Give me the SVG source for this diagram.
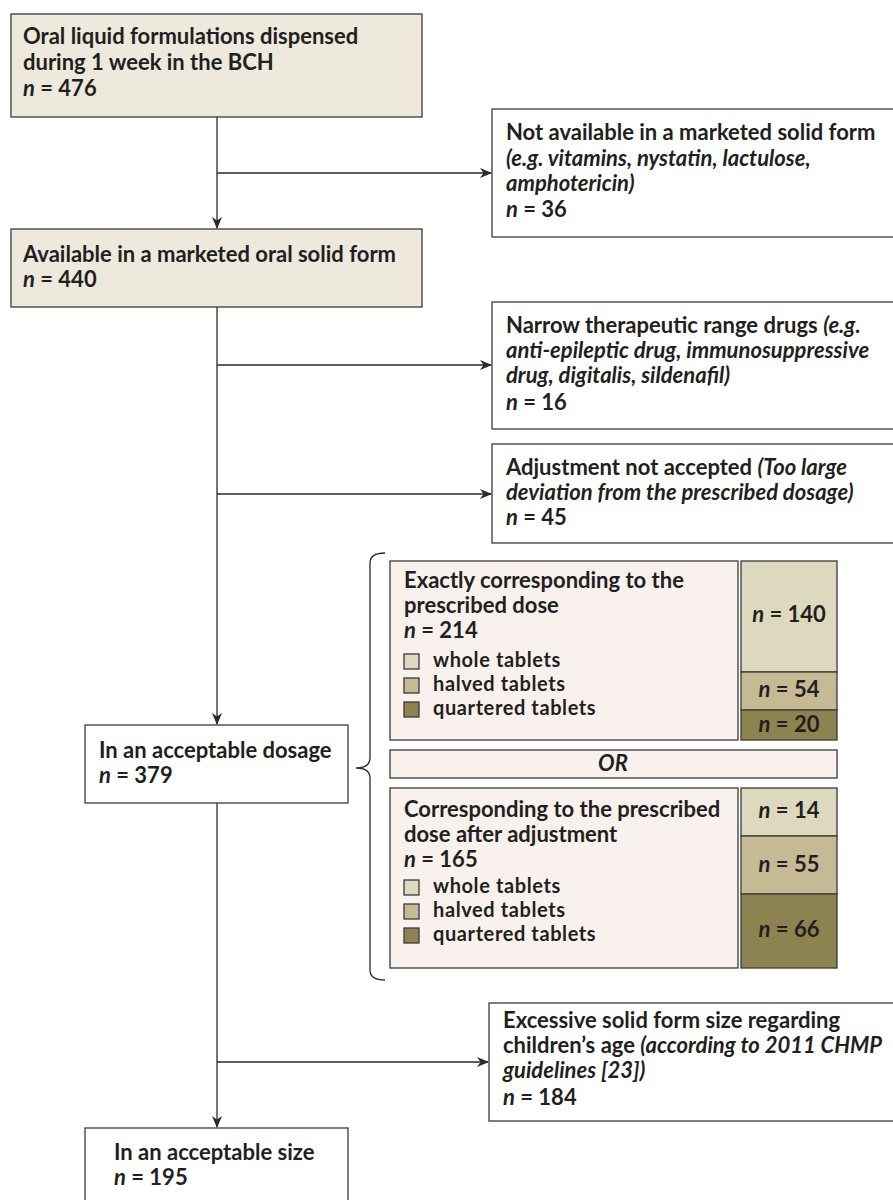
<svg xmlns="http://www.w3.org/2000/svg" width="893" height="1200" viewBox="0 0 893 1200">
<defs>
<style>
text{font-family:Lato,"Liberation Sans",sans-serif;font-weight:bold;font-size:22px;fill:#231f20}
.i{font-style:italic}
.lg{font-size:20px;letter-spacing:0.6px}
.box{stroke:#3a3a3a;stroke-width:1.3}
.beige{fill:#ede9dd}
.white{fill:#ffffff}
.pink{fill:#f9f1ee}
.c1{fill:#dcd9bf}
.c2{fill:#c5ba94}
.c3{fill:#8c8350}
.ln{stroke:#2a2a2a;stroke-width:1.3;fill:none}
.mid{text-anchor:middle}
</style>
<marker id="ah" viewBox="0 0 12 10" refX="11" refY="5" markerWidth="12" markerHeight="10" markerUnits="userSpaceOnUse" orient="auto">
<path d="M0,0 L12,5 L0,10 L3.5,5 z" fill="#2a2a2a"/>
</marker>
</defs>

<g id="connectors">
<line class="ln" x1="217" y1="117" x2="217" y2="228" marker-end="url(#ah)"/>
<line class="ln" x1="217" y1="173" x2="491" y2="173" marker-end="url(#ah)"/>
<line class="ln" x1="217" y1="307" x2="217" y2="724" marker-end="url(#ah)"/>
<line class="ln" x1="217" y1="365" x2="491" y2="365" marker-end="url(#ah)"/>
<line class="ln" x1="217" y1="494" x2="491" y2="494" marker-end="url(#ah)"/>
<line class="ln" x1="217" y1="803" x2="217" y2="1127" marker-end="url(#ah)"/>
<line class="ln" x1="217" y1="1062" x2="488" y2="1062" marker-end="url(#ah)"/>
<path class="ln" d="M385,553 Q370,553 370,563 L370,758 Q370,768 356,768 Q370,768 370,778 L370,970 Q370,980 385,980"/>
</g>

<g id="n-oral">
<rect class="box beige" x="11" y="14" width="411" height="103"/>
<text x="23" y="44">Oral liquid formulations dispensed</text>
<text x="23" y="70">during 1 week in the BCH</text>
<text x="23" y="96"><tspan class="i">n</tspan> = 476</text>
</g>

<g id="n-notavail">
<rect class="box white" x="492" y="109" width="410" height="128"/>
<text x="506" y="140">Not available in a marketed solid form</text>
<text x="506" y="166" class="i">(e.g. vitamins, nystatin, lactulose,</text>
<text x="506" y="191" class="i">amphotericin)</text>
<text x="506" y="217"><tspan class="i">n</tspan> = 36</text>
</g>

<g id="n-avail">
<rect class="box beige" x="11" y="229" width="411" height="78"/>
<text x="23" y="262">Available in a marketed oral solid form</text>
<text x="23" y="287"><tspan class="i">n</tspan> = 440</text>
</g>

<g id="n-narrow">
<rect class="box white" x="492" y="302" width="410" height="127"/>
<text x="506" y="333">Narrow therapeutic range drugs <tspan class="i">(e.g.</tspan></text>
<text x="506" y="358" class="i">anti-epileptic drug, immunosuppressive</text>
<text x="506" y="383" class="i">drug, digitalis, sildenafil)</text>
<text x="506" y="410"><tspan class="i">n</tspan> = 16</text>
</g>

<g id="n-adjust">
<rect class="box white" x="492" y="444" width="410" height="99"/>
<text x="506" y="475">Adjustment not accepted <tspan class="i">(Too large</tspan></text>
<text x="506" y="500" class="i">deviation from the prescribed dosage)</text>
<text x="506" y="525"><tspan class="i">n</tspan> = 45</text>
</g>

<g id="n-exact">
<rect class="box pink" x="390" y="561" width="348" height="179"/>
<text x="404" y="588">Exactly corresponding to the</text>
<text x="404" y="613">prescribed dose</text>
<text x="404" y="638"><tspan class="i">n</tspan> = 214</text>
<rect class="box c1" x="404" y="654" width="15" height="15"/>
<text x="433" y="667" class="lg">whole tablets</text>
<rect class="box c2" x="404" y="678" width="15" height="15"/>
<text x="433" y="691" class="lg">halved tablets</text>
<rect class="box c3" x="404" y="702" width="15" height="15"/>
<text x="433" y="715" class="lg">quartered tablets</text>
</g>

<g id="n-exact-bars">
<rect class="box c1" x="741" y="561" width="96" height="111"/>
<rect class="box c2" x="741" y="672" width="96" height="38"/>
<rect class="box c3" x="741" y="710" width="96" height="30"/>
<text x="789" y="622" class="mid"><tspan class="i">n</tspan> = 140</text>
<text x="789" y="697" class="mid"><tspan class="i">n</tspan> = 54</text>
<text x="789" y="732" class="mid"><tspan class="i">n</tspan> = 20</text>
</g>

<g id="n-or">
<rect class="box pink" x="390" y="750" width="447" height="28"/>
<text x="613" y="771" class="mid i">OR</text>
</g>

<g id="n-corr">
<rect class="box pink" x="390" y="788" width="348" height="180"/>
<text x="404" y="817">Corresponding to the prescribed</text>
<text x="404" y="842">dose after adjustment</text>
<text x="404" y="867"><tspan class="i">n</tspan> = 165</text>
<rect class="box c1" x="404" y="880" width="15" height="15"/>
<text x="433" y="893" class="lg">whole tablets</text>
<rect class="box c2" x="404" y="904" width="15" height="15"/>
<text x="433" y="917" class="lg">halved tablets</text>
<rect class="box c3" x="404" y="928" width="15" height="15"/>
<text x="433" y="941" class="lg">quartered tablets</text>
</g>

<g id="n-corr-bars">
<rect class="box c1" x="741" y="788" width="96" height="48"/>
<rect class="box c2" x="741" y="836" width="96" height="58"/>
<rect class="box c3" x="741" y="894" width="96" height="74"/>
<text x="789" y="818" class="mid"><tspan class="i">n</tspan> = 14</text>
<text x="789" y="872" class="mid"><tspan class="i">n</tspan> = 55</text>
<text x="789" y="937" class="mid"><tspan class="i">n</tspan> = 66</text>
</g>

<g id="n-dosage">
<rect class="box white" x="85" y="725" width="263" height="78"/>
<text x="99" y="758">In an acceptable dosage</text>
<text x="99" y="783"><tspan class="i">n</tspan> = 379</text>
</g>

<g id="n-excess">
<rect class="box white" x="489" y="1003" width="413" height="118"/>
<text x="503" y="1028">Excessive solid form size regarding</text>
<text x="503" y="1053">children’s age <tspan class="i">(according to 2011 CHMP</tspan></text>
<text x="503" y="1078" class="i">guidelines [23])</text>
<text x="503" y="1105"><tspan class="i">n</tspan> = 184</text>
</g>

<g id="n-size">
<rect class="box white" x="85" y="1128" width="263" height="90"/>
<text x="114" y="1160">In an acceptable size</text>
<text x="114" y="1185"><tspan class="i">n</tspan> = 195</text>
</g>
</svg>
